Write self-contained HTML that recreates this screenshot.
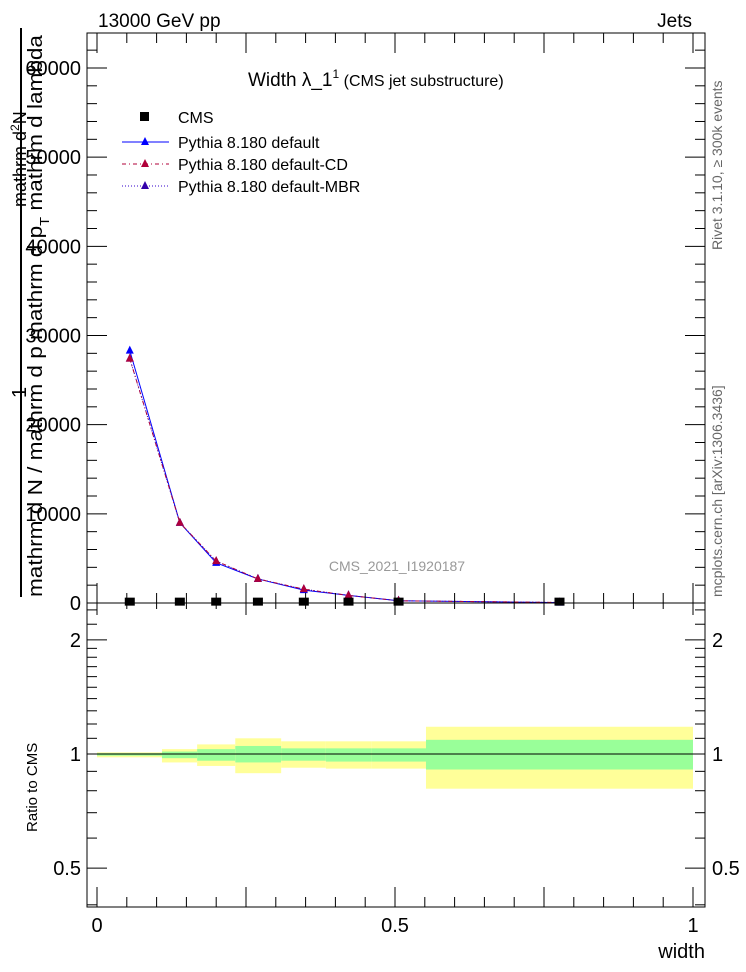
<!DOCTYPE html>
<html><head><meta charset="utf-8"><style>
body{margin:0;background:#fff;}
svg{display:block;font-family:"Liberation Sans",sans-serif;}
</style></head><body>
<svg id="chart" width="746" height="972" viewBox="0 0 746 972" xmlns="http://www.w3.org/2000/svg">
<g id="bands"></g>
<g id="marks"></g>
<g id="axes"></g>
<text x="98" y="27" font-size="19">13000 GeV pp</text>
<text x="692" y="27" font-size="19" text-anchor="end">Jets</text>
<text x="248" y="86" font-size="19">Width λ_1<tspan font-size="12" dy="-8">1</tspan><tspan font-size="16" dy="8"> (CMS jet substructure)</tspan></text>
<g font-size="16">
<rect x="140" y="112" width="9" height="9" fill="#000"/>
<text x="178" y="123">CMS</text>
<line x1="122" y1="142" x2="169" y2="142" stroke="#00f" stroke-width="1"/>
<polygon points="145,137 149,145 141,145" fill="#00f"/>
<text x="178" y="148">Pythia 8.180 default</text>
<line x1="122" y1="164" x2="169" y2="164" stroke="#b0003a" stroke-width="1" stroke-dasharray="4,3,1,3"/>
<polygon points="145,159 149,167 141,167" fill="#b0003a"/>
<text x="178" y="170">Pythia 8.180 default-CD</text>
<line x1="122" y1="186" x2="169" y2="186" stroke="#3300cc" stroke-width="1" stroke-dasharray="1,2"/>
<polygon points="145,181 149,189 141,189" fill="#3300aa"/>
<text x="178" y="192">Pythia 8.180 default-MBR</text>
</g>
<text x="397" y="571" font-size="14" fill="#999" text-anchor="middle">CMS_2021_I1920187</text>
<text transform="translate(722,250) rotate(-90)" font-size="14" fill="#666">Rivet 3.1.10, ≥ 300k events</text>
<text transform="translate(722,597) rotate(-90)" font-size="14" fill="#666">mcplots.cern.ch [arXiv:1306.3436]</text>
<g font-size="20">
<text transform="translate(26,207) rotate(-90)" font-size="18">mathrm d<tspan font-size="12" dy="-7">2</tspan><tspan dy="7">N</tspan></text>
<text transform="translate(26,398) rotate(-90)">1</text>
<line x1="21" y1="28" x2="21" y2="597" stroke="#000" stroke-width="2"/>
<text transform="translate(42,597) rotate(-90)" textLength="562" lengthAdjust="spacingAndGlyphs">mathrm d N / mathrm d p    mathrm d p<tspan font-size="13" dy="7">T</tspan><tspan dy="-7"> mathrm d lambda</tspan></text>
</g>
<text transform="translate(37,832) rotate(-90)" font-size="15">Ratio to CMS</text>
<text x="705" y="958" font-size="20" text-anchor="end">width</text>
</svg>
<script>
const binEdges=[0,0.109,0.168,0.232,0.309,0.384,0.46,0.552,1.0];
const xCenters=[0.055,0.139,0.2,0.27,0.347,0.422,0.506,0.776];
const cmsValues=[40,40,40,40,40,40,40,40];
const defaultValues=[28300,9000,4500,2700,1450,850,250,40];
const cdValues=[27400,9000,4700,2700,1550,850,250,60];
const mbrValues=[27400,9000,4700,2700,1550,850,250,60];
const yellowHi=[1.01,1.03,1.06,1.10,1.08,1.08,1.08,1.18];
const yellowLo=[0.98,0.95,0.93,0.89,0.92,0.915,0.915,0.81];
const greenHi=[1.005,1.015,1.03,1.05,1.035,1.035,1.035,1.09];
const greenLo=[0.99,0.975,0.96,0.95,0.96,0.955,0.955,0.91];
const yTicks=[0,10000,20000,30000,40000,50000,60000];
const rTicks=[0.5,1,2];
const xTicks=[0,0.5,1];
const NS='http://www.w3.org/2000/svg';
const L=87,R=705,T=33,B=603,RB=907;
const sx=v=>97+596*v;
const sy=v=>603-v*0.008917;
const sr=v=>754-379*Math.log10(v);
function mk(tag,attrs,parent){const e=document.createElementNS(NS,tag);for(const k in attrs)e.setAttribute(k,attrs[k]);parent.appendChild(e);return e;}
const bands=document.getElementById('bands'),marks=document.getElementById('marks'),axes=document.getElementById('axes');
for(let i=0;i<xCenters.length;i++){
 const x0=sx(binEdges[i]),x1=sx(binEdges[i+1]);
 const y=mk('rect',{x:x0,y:sr(yellowHi[i]),width:x1-x0,height:sr(yellowLo[i])-sr(yellowHi[i]),fill:'#ffff99'},bands);
 
 
 const g=mk('rect',{x:x0,y:sr(greenHi[i]),width:x1-x0,height:sr(greenLo[i])-sr(greenHi[i]),fill:'#99ff99'},bands);
 
 
}
const one=mk('line',{x1:sx(0),x2:sx(1),y1:sr(1),y2:sr(1),stroke:'#000','stroke-width':1},bands);


function series(vals,color,dash,name){
 const pts=vals.map((v,i)=>sx(xCenters[i])+','+sy(v)).join(' ');
 const p=mk('polyline',{points:pts,fill:'none',stroke:color,'stroke-width':1,'stroke-dasharray':dash},marks);
 
 
 vals.forEach((v,i)=>{const x=sx(xCenters[i]),y=sy(v);
  const t=mk('polygon',{points:`${x},${y-5} ${x+4},${y+3} ${x-4},${y+3}`,fill:color},marks);
  
  });
}
series(defaultValues,'#0000ff','none','default');
series(mbrValues,'#3300aa','1,2','default-mbr');
series(cdValues,'#b0003a','4,3,1,3','default-cd');
cmsValues.forEach((v,i)=>{const x=sx(xCenters[i]),y=sy(v);
 const r=mk('rect',{x:x-5,y:y-5,width:10,height:8,fill:'#000'},marks);
 
 });
mk('rect',{x:L,y:T,width:R-L,height:B-T,fill:'none',stroke:'#000','stroke-width':1},axes);
mk('rect',{x:L,y:B,width:R-L,height:RB-B,fill:'none',stroke:'#000','stroke-width':1},axes);
for(let v=0;v<=63000;v+=2000){const y=sy(v);const big=v%10000===0;const len=big?20:10;
 mk('line',{x1:L,x2:L+len,y1:y,y2:y,stroke:'#000'},axes);mk('line',{x1:R-len,x2:R,y1:y,y2:y,stroke:'#000'},axes);}
yTicks.forEach(v=>{const t=mk('text',{x:81,y:sy(v)+7,'font-size':20,'text-anchor':'end'},axes);t.textContent=String(v);
 
 });
[0.4,0.5,0.6,0.7,0.8,0.9,1,1.1,1.2,1.3,1.4,1.5,1.6,1.7,1.8,1.9,2,2.2,2.4].forEach(v=>{const y=sr(v);const big=rTicks.includes(v);const len=big?20:10;
 mk('line',{x1:L,x2:L+len,y1:y,y2:y,stroke:'#000'},axes);mk('line',{x1:R-len,x2:R,y1:y,y2:y,stroke:'#000'},axes);});
rTicks.forEach(v=>{const a=mk('text',{x:81,y:sr(v)+7,'font-size':20,'text-anchor':'end'},axes);a.textContent=String(v);
 
 
 const b=mk('text',{x:712,y:sr(v)+7,'font-size':20},axes);b.textContent=String(v);
 
 });
for(let k=0;k<=20;k++){const v=k*0.05;const x=sx(v);const big=k%5===0;const len=big?20:10;
 mk('line',{x1:x,x2:x,y1:B,y2:B-len,stroke:'#000'},axes);mk('line',{x1:x,x2:x,y1:B,y2:B+len*0.6,stroke:'#000'},axes);
 mk('line',{x1:x,x2:x,y1:RB,y2:RB-len,stroke:'#000'},axes);mk('line',{x1:x,x2:x,y1:T,y2:T+len,stroke:'#000'},axes);}
xTicks.forEach(v=>{const t=mk('text',{x:sx(v),y:932,'font-size':20,'text-anchor':'middle'},axes);t.textContent=String(v);
 
 });
</script>
</body></html>
